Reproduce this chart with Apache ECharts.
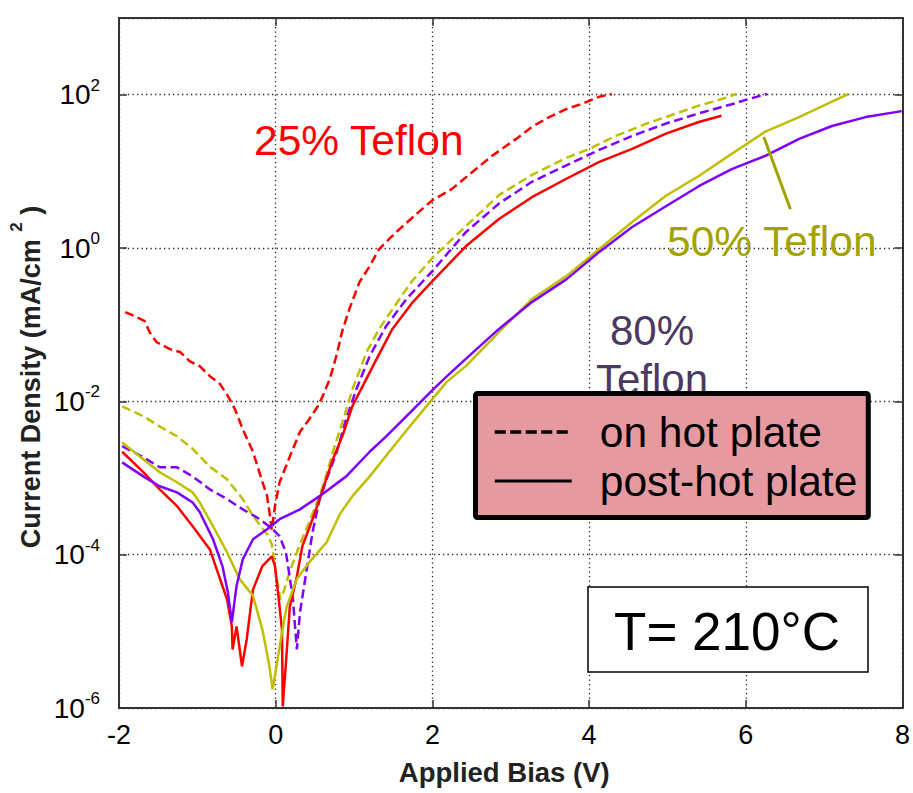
<!DOCTYPE html>
<html><head><meta charset="utf-8">
<script src="https://cdn.jsdelivr.net/npm/echarts@6/dist/echarts.min.js"></script>
<style>html,body{margin:0;padding:0;background:#fff}#c{width:913px;height:793px}</style>
</head><body><div id="c"></div>
<script>
// ---- tick values ----
const xTickValues = [-2, 0, 2, 4, 6, 8];
const yTickExponents = [-6, -4, -2, 0, 2];

// ---- series data: [applied bias (V), current density (mA/cm^2)] ----
const teflon25OnHot = [[-1.92,0.146],[-1.80,0.129],[-1.67,0.111],[-1.61,0.080],[-1.52,0.059],[-1.35,0.048],[-1.22,0.044],[-1.10,0.0335],[-0.97,0.0288],[-0.84,0.0213],[-0.71,0.0168],[-0.61,0.0117],[-0.52,0.0079],[-0.42,0.0043],[-0.29,0.0022],[-0.18,0.00096],[-0.11,0.00058],[-0.08,0.00036],[-0.05,0.00021],[-0.01,0.00043],[0.05,0.00088],[0.18,0.0019],[0.31,0.0040],[0.43,0.0059],[0.54,0.0087],[0.60,0.0117],[0.69,0.0195],[0.78,0.041],[0.85,0.083],[0.94,0.16],[1.07,0.36],[1.20,0.58],[1.32,0.97],[1.54,1.62],[1.80,2.8],[2.00,4.2],[2.25,5.9],[2.51,9.8],[2.76,15.9],[3.07,26.5],[3.27,38],[3.49,51],[3.71,65],[3.91,76],[4.13,94],[4.29,102]];
const teflon25PostHot = [[-1.96,0.0022],[-1.69,0.00119],[-1.48,0.00071],[-1.26,0.00043],[-1.06,0.000235],[-0.84,0.000117],[-0.71,4.8e-5],[-0.62,2.6e-5],[-0.56,1.16e-5],[-0.55,5.8e-6],[-0.50,1.16e-5],[-0.43,3.5e-6],[-0.37,7.9e-6],[-0.29,3.5e-5],[-0.17,7.1e-5],[-0.05,9.5e-5],[-0.01,7.1e-5],[0.03,3.2e-5],[0.08,1.06e-5],[0.09,1.05e-6],[0.14,5.3e-6],[0.18,2.1e-5],[0.27,5.2e-5],[0.34,0.000129],[0.47,0.00029],[0.56,0.00053],[0.73,0.00176],[0.85,0.0035],[0.98,0.0087],[1.11,0.0158],[1.29,0.036],[1.49,0.088],[1.75,0.197],[2.00,0.37],[2.43,1.06],[2.85,2.39],[3.27,4.6],[3.71,8.0],[4.13,13.3],[4.55,19.6],[4.98,31],[5.40,44],[5.69,53]];
const teflon50OnHot = [[-1.96,0.0086],[-1.69,0.0064],[-1.48,0.0047],[-1.26,0.0035],[-1.06,0.0024],[-0.84,0.0014],[-0.62,0.00096],[-0.42,0.00053],[-0.29,0.00032],[-0.11,0.000185],[-0.05,0.000137],[0.01,5.2e-5],[0.06,2.6e-5],[0.11,3.5e-5],[0.18,6.1e-5],[0.31,0.000137],[0.43,0.00027],[0.56,0.00058],[0.65,0.00112],[0.73,0.0022],[0.85,0.0053],[0.98,0.0144],[1.16,0.044],[1.32,0.088],[1.58,0.216],[1.74,0.37],[2.00,0.74],[2.43,1.94],[2.85,4.9],[3.27,9.0],[3.71,15],[4.00,19.6],[4.34,29],[4.76,43],[4.98,51],[5.40,72],[5.62,83],[5.88,102]];
const teflon50PostHot = [[-1.96,0.0029],[-1.69,0.00176],[-1.48,0.00119],[-1.26,0.00088],[-1.06,0.00065],[-0.97,0.00048],[-0.80,0.000235],[-0.62,0.000107],[-0.46,4.8e-5],[-0.29,2.9e-5],[-0.17,1.06e-5],[-0.08,3.5e-6],[-0.04,1.75e-6],[0.01,3.5e-6],[0.08,9.7e-6],[0.14,2.1e-5],[0.27,4.8e-5],[0.43,8.0e-5],[0.65,0.000145],[0.82,0.00034],[0.98,0.00058],[1.20,0.00105],[1.45,0.0022],[1.71,0.0047],[2.00,0.0107],[2.18,0.0178],[2.43,0.029],[2.85,0.080],[3.27,0.216],[3.71,0.43],[4.13,0.97],[4.55,2.18],[4.98,4.8],[5.40,8.7],[5.82,16.9],[6.25,33],[6.68,51],[7.10,81],[7.31,102]];
const teflon80OnHot = [[-1.96,0.0026],[-1.69,0.00187],[-1.48,0.00138],[-1.26,0.00138],[-1.06,0.00105],[-0.84,0.00071],[-0.62,0.00053],[-0.42,0.00039],[-0.20,0.00029],[-0.04,0.000215],[0.05,0.000174],[0.13,0.000107],[0.17,5.9e-5],[0.22,2.6e-5],[0.27,5.8e-6],[0.31,1.77e-5],[0.39,5.9e-5],[0.47,0.000196],[0.56,0.00053],[0.65,0.00096],[0.78,0.0022],[0.90,0.0059],[1.03,0.0144],[1.20,0.039],[1.41,0.096],[1.67,0.216],[1.87,0.36],[2.00,0.50],[2.43,1.62],[2.85,3.8],[3.27,7.3],[3.71,12],[4.13,19],[4.55,29],[4.98,42],[5.40,57],[5.82,75],[6.04,88],[6.27,102]];
const teflon80PostHot = [[-1.96,0.0016],[-1.69,0.00105],[-1.48,0.00078],[-1.26,0.00065],[-1.06,0.00048],[-0.97,0.00036],[-0.80,0.000159],[-0.68,7.1e-5],[-0.61,3.2e-5],[-0.56,1.31e-5],[-0.50,3.9e-5],[-0.42,8.7e-5],[-0.29,0.000159],[-0.11,0.000215],[0.05,0.00029],[0.31,0.00039],[0.56,0.00058],[0.90,0.00105],[1.20,0.0022],[1.41,0.0035],[1.67,0.0064],[2.00,0.014],[2.18,0.021],[2.43,0.036],[2.85,0.088],[3.27,0.197],[3.71,0.39],[4.13,0.89],[4.55,1.88],[4.98,3.5],[5.40,6.4],[5.82,10.7],[6.25,15.9],[6.68,26.5],[7.10,39],[7.53,51],[7.99,61]];
// pointer line of the "50% Teflon" label (data coordinates)
const pointer50 = [[6.23,28],[6.57,3.2]];

const FONT = 'Liberation Sans, Arial, Helvetica, sans-serif';
const RED = '#ff0000', OLIVE = '#bfbf00', PURPLE = '#7f00ff';
const DASH = [9, 4.5];

function curve(name, data, color, dashed) {
  return {
    name: name, type: 'line', data: data, symbol: 'none', silent: true,
    xAxisIndex: 0, yAxisIndex: 0, z: 2,
    lineStyle: { color: color, width: 2.5, type: dashed ? DASH : 'solid' },
    itemStyle: { color: color }
  };
}

const chart = echarts.init(document.getElementById('c'), null, { renderer: 'svg' });

const axisLineStyle = { show: true, onZero: false, lineStyle: { color: '#333', width: 2 } };
const tickStyle = { show: true, inside: true, length: 8, lineStyle: { color: '#333', width: 1.5 } };
const gridLine = { show: true, lineStyle: { color: '#222', width: 1.3, type: [1.3, 3.2] } };
const hiddenSymbol = { opacity: 0, color: 'rgba(0,0,0,0)', borderWidth: 0 };

chart.setOption({
  animation: false,
  backgroundColor: '#fff',
  grid: { left: 119, right: 9, top: 18, bottom: 85 },
  xAxis: [{
    type: 'value', min: xTickValues[0], max: xTickValues[xTickValues.length - 1],
    interval: xTickValues[1] - xTickValues[0], position: 'bottom',
    axisLine: axisLineStyle, axisTick: tickStyle, splitLine: gridLine,
    axisLabel: { fontSize: 27, color: '#000', fontFamily: FONT, margin: 13 },
    name: 'Applied Bias (V)', nameLocation: 'middle', nameGap: 50, nameMoveOverlap: false,
    nameTextStyle: { fontSize: 27.5, fontWeight: 'bold', color: '#222', fontFamily: FONT, padding: [0, 13, 0, 0] }
  }, {
    type: 'value', min: xTickValues[0], max: xTickValues[xTickValues.length - 1],
    interval: xTickValues[1] - xTickValues[0], position: 'top',
    axisLine: axisLineStyle, axisTick: tickStyle, splitLine: { show: false }, axisLabel: { show: false }
  }],
  yAxis: [{
    type: 'log', logBase: 100, min: Math.pow(10, -6), max: Math.pow(10, 3), position: 'left',
    axisLine: axisLineStyle, axisTick: tickStyle, splitLine: gridLine,
    axisLabel: {
      margin: 19, fontFamily: FONT,
      formatter: function (v) {
        const e = Math.round(Math.log10(v));
        if (yTickExponents.indexOf(e) < 0) return '';
        return '{b|10}{s|' + e + '}';
      },
      rich: {
        b: { fontSize: 28, color: '#000', fontFamily: FONT, lineHeight: 36, verticalAlign: 'middle' },
        s: { fontSize: 17, color: '#000', fontFamily: FONT, lineHeight: 17, verticalAlign: 'top' }
      }
    },
    name: '{t|Current Density (mA/cm }{u|2}{t| )}', nameLocation: 'middle', nameGap: 75, nameMoveOverlap: false,
    nameTextStyle: {
      padding: [0, 28, 0, 0],
      rich: {
        t: { fontSize: 27, fontWeight: 'bold', color: '#222', fontFamily: FONT, lineHeight: 36, verticalAlign: 'bottom' },
        u: { fontSize: 17, fontWeight: 'bold', color: '#222', fontFamily: FONT, lineHeight: 17, verticalAlign: 'top' }
      }
    }
  }, {
    type: 'log', logBase: 100, min: Math.pow(10, -6), max: Math.pow(10, 3), position: 'right',
    axisLine: axisLineStyle, axisTick: tickStyle, splitLine: { show: false }, axisLabel: { show: false }
  }],
  legend: {
    data: [
      { name: 'on hot plate', lineStyle: { type: [11, 4.5], width: 3.5 }, itemStyle: hiddenSymbol },
      { name: 'post-hot plate', lineStyle: { width: 3 }, itemStyle: hiddenSymbol }
    ],
    itemStyle: hiddenSymbol,
    selectedMode: false, orient: 'vertical', left: 475.5, top: 393.5,
    itemWidth: 77, itemHeight: 20, itemGap: 6,
    padding: [17, 11, 15, 17.5],
    backgroundColor: '#e59aa2', borderColor: '#000', borderWidth: 5, borderRadius: 2,
    textStyle: { fontSize: 42.5, lineHeight: 42, color: '#000', fontFamily: FONT, padding: [0, 0, 0, 23] }
  },
  series: [
    curve('25% on', teflon25OnHot, RED, true),
    curve('50% on', teflon50OnHot, OLIVE, true),
    curve('80% on', teflon80OnHot, PURPLE, true),
    curve('25% post', teflon25PostHot, RED, false),
    curve('50% post', teflon50PostHot, OLIVE, false),
    curve('80% post', teflon80PostHot, PURPLE, false),
    { name: 'pointer', type: 'line', data: pointer50, symbol: 'none', silent: true, z: 3,
      lineStyle: { color: '#a3a300', width: 3 } },
    { name: 'on hot plate', type: 'line', data: [], symbol: 'none',
      lineStyle: { color: '#000', type: [11, 4.5], width: 3.5 }, itemStyle: { color: '#000' } },
    { name: 'post-hot plate', type: 'line', data: [], symbol: 'none',
      lineStyle: { color: '#000', width: 3 }, itemStyle: { color: '#000' } }
  ],
  graphic: [
    { type: 'text', z: 3, x: 254, y: 140, style: { text: '25% Teflon', fill: '#ff0000', font: '42.5px ' + FONT, verticalAlign: 'middle', align: 'left' } },
    { type: 'text', z: 3, x: 667, y: 241, style: { text: '50% Teflon', fill: '#a3a300', font: '42.5px ' + FONT, verticalAlign: 'middle', align: 'left' } },
    { type: 'text', z: 3, x: 652, y: 330, style: { text: '80%', fill: '#4b3863', font: '42px ' + FONT, verticalAlign: 'middle', align: 'center' } },
    { type: 'text', z: 3, x: 652, y: 379, style: { text: 'Teflon', fill: '#4b3863', font: '42px ' + FONT, verticalAlign: 'middle', align: 'center' } },
    { type: 'rect', z: 10, shape: { x: 588, y: 587, width: 280, height: 85 }, style: { fill: '#fff', stroke: '#000', lineWidth: 1.5 } },
    { type: 'text', z: 11, x: 727, y: 631, style: { text: 'T= 210°C', fill: '#000', font: '53px ' + FONT, verticalAlign: 'middle', align: 'center' } }
  ]
});
</script>
</body></html>
